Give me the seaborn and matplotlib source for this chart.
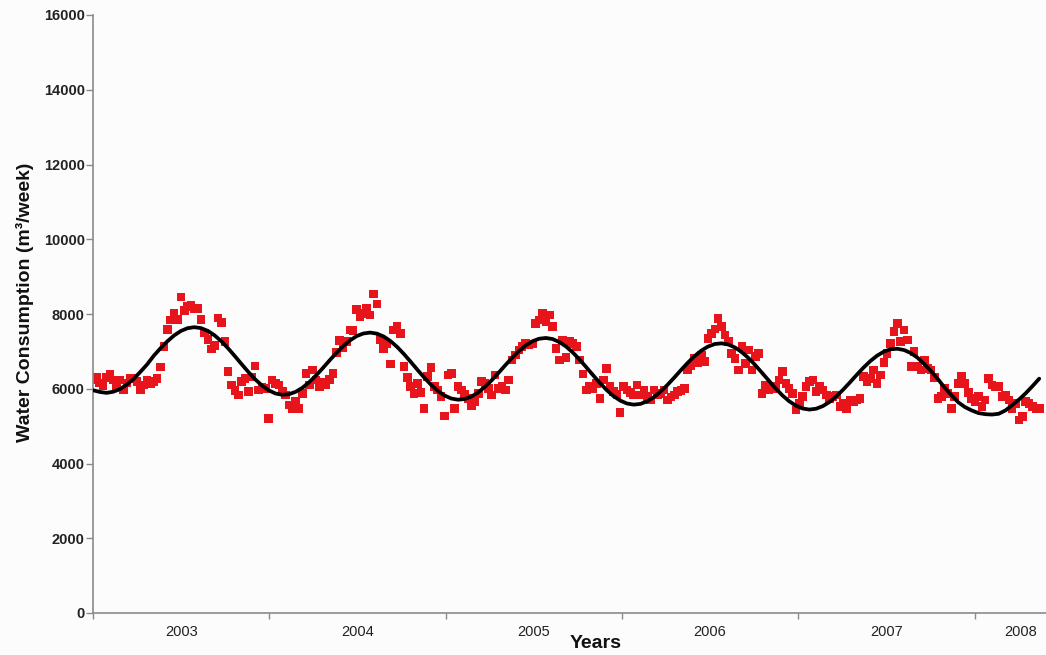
import numpy as np
import pandas as pd
import seaborn as sns
import matplotlib
matplotlib.use("Agg")
import matplotlib.pyplot as plt

# Weekly water consumption (m3/week), one block per calendar year
use_2003 = [6250, 6300, 6150, 6075, 6300, 6400, 6230, 6050, 6230, 5970,
            6150, 6280, 6280, 6190, 5970, 6100, 6230, 6130, 6200, 6280,
            6580, 7130, 7590, 7840, 8020, 7860, 8450, 8090, 8200, 8240,
            8150, 8150, 7860, 7490, 7320, 7060, 7150, 7890, 7770, 7260,
            6460, 6100, 5950, 5830, 6190, 6280, 5920, 6320, 6610, 5970,
            6050, 6010]
use_2004 = [5210, 6235, 6147, 6100, 5922, 5834, 5566, 5477, 5655, 5477,
            5879, 6414, 6100, 6503, 6235, 6056, 6163, 6100, 6250, 6414,
            6966, 7287, 7100, 7260, 7573, 7555, 8127, 7930, 8020, 8153,
            7975, 8536, 8269, 7324, 7083, 7217, 6663, 7573, 7662, 7485,
            6591, 6300, 6056, 5879, 6147, 5900, 5477, 6324, 6575, 6056,
            5968, 5800]
use_2005 = [5272, 6369, 6414, 5477, 6056, 5968, 5850, 5745, 5540, 5655,
            5879, 6190, 6147, 6000, 5834, 6369, 6013, 6056, 5968, 6235,
            6770, 6904, 7038, 7126, 7217, 7172, 7200, 7752, 7841, 8020,
            7796, 7975, 7662, 7083, 6770, 7306, 6842, 7260, 7217, 7126,
            6770, 6400, 5968, 6056, 6013, 6147, 5745, 6235, 6548, 6056,
            5922, 5850]
use_2006 = [5360, 6056, 5968, 5900, 5834, 6100, 5834, 5968, 5800, 5700,
            5968, 5850, 5879, 5968, 5700, 5780, 5834, 5922, 5950, 6013,
            6503, 6610, 6815, 6700, 6904, 6725, 7351, 7485, 7600, 7886,
            7662, 7440, 7260, 6950, 6815, 6503, 7126, 6682, 7038, 6503,
            6860, 6950, 5879, 6100, 5968, 6000, 6056, 6235, 6457, 6147,
            6000, 5879]
use_2007 = [5432, 5611, 5790, 6056, 6190, 6235, 5922, 6056, 5968, 5834,
            5745, 5790, 5834, 5520, 5600, 5477, 5700, 5655, 5700, 5745,
            6324, 6200, 6280, 6503, 6147, 6369, 6700, 6950, 7217, 7528,
            7752, 7260, 7573, 7306, 6591, 6993, 6591, 6503, 6770, 6548,
            6503, 6300, 5745, 5790, 6000, 5879, 5477, 5800, 6147, 6324,
            6147, 5900]
use_2008 = [5745, 5655, 5790, 5520, 5700, 6280, 6100, 6056, 6056, 5790,
            5834, 5700, 5477, 5611, 5165, 5254, 5655, 5600, 5520, 5477,
            5477]

# Seasonal model curve, sampled every 2 weeks
fit_weeks = list(range(0, 281, 2))
fit_use = [5960, 5915, 5890, 5920, 5990, 6110, 6260, 6450, 6650, 6885,
           7086, 7269, 7426, 7546, 7621, 7647, 7621, 7547, 7427, 7268,
           7079, 6871, 6656, 6446, 6252, 6086, 5958, 5873, 5839, 5854,
           5919, 6029, 6178, 6355, 6553, 6758, 6956, 7137, 7291, 7408,
           7479, 7503, 7475, 7399, 7277, 7119, 6929, 6722, 6508, 6300,
           6109, 5946, 5820, 5739, 5707, 5725, 5791, 5903, 6053, 6229,
           6426, 6629, 6826, 7004, 7156, 7269, 7338, 7359, 7330, 7250,
           7128, 6969, 6779, 6572, 6360, 6155, 5965, 5805, 5684, 5605,
           5575, 5595, 5664, 5777, 5927, 6104, 6299, 6501, 6696, 6872,
           7020, 7130, 7197, 7215, 7183, 7103, 6978, 6819, 6630, 6423,
           6212, 6009, 5822, 5666, 5547, 5471, 5443, 5466, 5537, 5650,
           5801, 5978, 6172, 6373, 6566, 6739, 6884, 6992, 7056, 7070,
           7036, 6955, 6830, 6660, 6470, 6260, 6030, 5830, 5640, 5510,
           5420, 5350, 5320, 5310, 5330, 5420, 5560, 5710, 5880, 6070,
           6270]

years = ["2003", "2004", "2005", "2006", "2007", "2008"]
year_starts = [0, 52.2, 104.4, 156.5, 208.7, 260.9]
year_label_pos = [26.1, 78.3, 130.4, 182.6, 234.8, 274.5]
y_ticks = [0, 2000, 4000, 6000, 8000, 10000, 12000, 14000, 16000]

weekly = use_2003 + use_2004 + use_2005 + use_2006 + use_2007 + use_2008
df = pd.DataFrame({"week": np.arange(len(weekly)), "use": weekly})
fit = pd.DataFrame({"week": fit_weeks, "use": fit_use})

sns.set_theme(style="white")
plt.rcParams["font.family"] = ["Liberation Sans", "DejaVu Sans"]

fig = plt.figure(figsize=(10.46, 6.55), dpi=100)
fig.patch.set_facecolor("#fcfcfc")
ax = fig.add_axes([93 / 1046, 1 - 613 / 655, 953 / 1046, 598 / 655])
ax.set_facecolor("#fcfcfc")

sns.scatterplot(data=df, x="week", y="use", marker="s", s=38,
                color="#e8141c", edgecolor="none", linewidth=0,
                ax=ax, zorder=2, legend=False)
sns.lineplot(data=fit, x="week", y="use", color="black", linewidth=2.7,
             ax=ax, zorder=3, legend=False)

ax.set_xlim(0, 282)
ax.set_ylim(0, 16000)

ax.set_yticks(y_ticks)
ax.set_yticklabels([str(v) for v in y_ticks], fontsize=10.5,
                   fontweight="bold", color="#222222")

ax.set_xticks(year_starts)
ax.set_xticklabels([])
ax.set_xticks(year_label_pos, minor=True)
ax.set_xticklabels(years, minor=True, fontsize=10.5, color="#222222")

ax.tick_params(axis="y", which="major", left=True, length=5, width=1,
               color="#8a8a8a", pad=1, direction="out")
ax.tick_params(axis="x", which="major", bottom=True, length=4, width=1,
               color="#8a8a8a", direction="out")
ax.tick_params(axis="x", which="minor", bottom=True, length=0, pad=9)

for side in ["top", "right"]:
    ax.spines[side].set_visible(False)
for side in ["left", "bottom"]:
    ax.spines[side].set_color("#8a8a8a")
    ax.spines[side].set_linewidth(1.2)

ax.set_xlabel("Years", fontsize=14, fontweight="bold", color="#111111")
ax.set_ylabel("Water Consumption (m³/week)", fontsize=14,
              fontweight="bold", color="#111111")
ax.xaxis.set_label_coords(0.527, -0.036)
ax.yaxis.set_label_coords(-0.062, 0.52)

fig.savefig("out.png", dpi=100, facecolor=fig.get_facecolor())
